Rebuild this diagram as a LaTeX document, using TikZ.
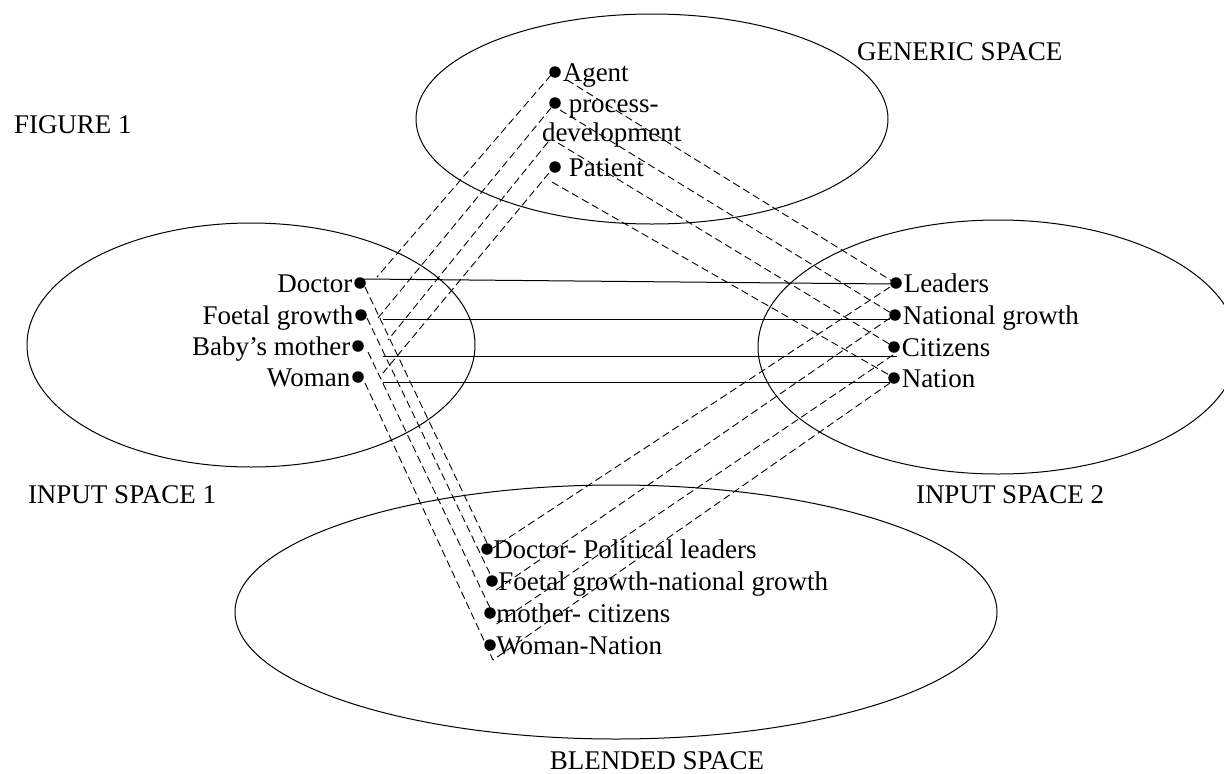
\documentclass[tikz,border=0pt]{standalone}
\usepackage{fontspec}
\setmainfont{Liberation Serif}
\begin{document}
\begin{tikzpicture}[x=1pt,y=-1pt,
  every node/.style={inner sep=0pt, outer sep=0pt},
  lbl/.style={font=\fontsize{27}{31}\selectfont},
  pt/.style={circle, fill=black, minimum size=11.5pt, inner sep=0pt},
  space/.style={line width=1pt},
  link/.style={line width=0.9pt, dash pattern=on 7.5pt off 4pt},
  tie/.style={line width=1pt}]
\useasboundingbox (0,0) rectangle (1224,774);

% the four mental spaces
\begin{scope}
  \clip (0,0) rectangle (1224,774);
  \draw[space] (652,119) ellipse [x radius=236, y radius=105];
  \draw[space] (251,345) ellipse [x radius=224, y radius=122];
  \draw[space] (998,347) ellipse [x radius=240, y radius=127];
  \draw[space] (616,612) ellipse [x radius=381, y radius=127];
\end{scope}

% titles
\node[lbl, anchor=base west] (fig) at (14,133) {FIGURE 1};
\node[lbl, anchor=base west] (gen) at (857,60) {GENERIC SPACE};
\node[lbl, anchor=base west] (in1) at (28,503) {INPUT SPACE 1};
\node[lbl, anchor=base west] (in2) at (916,503) {INPUT SPACE 2};
\node[lbl, anchor=base] (bl) at (657,769) {BLENDED SPACE};

% generic space
\node[pt] (ag) at (555,72) {};
\node[pt] (pr) at (555,103) {};
\node[pt] (pa) at (555,167) {};
\node[lbl, anchor=base west] (agT) at ([xshift=2pt,yshift=-9pt]ag.east) {Agent};
\node[lbl, anchor=base west] (prT) at ([xshift=8pt,yshift=-9pt]pr.east) {process-};
\node[lbl, anchor=base west] (dvT) at ([xshift=-13pt,yshift=-38pt]pr.center) {development};
\node[lbl, anchor=base west] (paT) at ([xshift=8pt,yshift=-9pt]pa.east) {Patient};

% input space 1
\node[pt] (doc) at (360,283) {};
\node[pt] (fg) at (361,315) {};
\node[pt] (bm) at (358,346) {};
\node[pt] (wo) at (358,377) {};
\node[lbl, anchor=base east] (docT) at ([xshift=-2pt,yshift=-9pt]doc.west) {Doctor};
\node[lbl, anchor=base east] (fgT) at ([xshift=-2pt,yshift=-9pt]fg.west) {Foetal growth};
\node[lbl, anchor=base east] (bmT) at ([xshift=-2pt,yshift=-9pt]bm.west) {Baby’s mother};
\node[lbl, anchor=base east] (woT) at ([xshift=-2pt,yshift=-9pt]wo.west) {Woman};

% input space 2
\node[pt] (le) at (896,283) {};
\node[pt] (ng) at (895,315) {};
\node[pt] (ci) at (894,347) {};
\node[pt] (na) at (894,378) {};
\node[lbl, anchor=base west] (leT) at ([xshift=2pt,yshift=-9pt]le.east) {Leaders};
\node[lbl, anchor=base west] (ngT) at ([xshift=2pt,yshift=-9pt]ng.east) {National growth};
\node[lbl, anchor=base west] (ciT) at ([xshift=2pt,yshift=-9pt]ci.east) {Citizens};
\node[lbl, anchor=base west] (naT) at ([xshift=2pt,yshift=-9pt]na.east) {Nation};

% blended space
\node[pt] (bd) at (487,549) {};
\node[pt] (bf) at (492,581) {};
\node[pt] (bc) at (490,613) {};
\node[pt] (bw) at (490,645) {};
\node[lbl, anchor=base west] (bdT) at ([xshift=0.5pt,yshift=-9pt]bd.east) {Doctor- Political leaders};
\node[lbl, anchor=base west] (bfT) at ([xshift=0.5pt,yshift=-9pt]bf.east) {Foetal growth-national growth};
\node[lbl, anchor=base west] (bcT) at ([xshift=0.5pt,yshift=-9pt]bc.east) {mother- citizens};
\node[lbl, anchor=base west] (bwT) at ([xshift=0.5pt,yshift=-9pt]bw.east) {Woman-Nation};

% generic space -> input space 1
\draw[link] ([shift={(-4,3)}]ag.center) -- ([shift={(17,-6)}]doc.center);
\draw[link] ([shift={(-4,5)}]pr.center) -- ([shift={(17,3)}]fg.center);
\draw[link] ([shift={(-7,39)}]pr.center) -- ([shift={(30,-6)}]bm.center);
\draw[link] ([shift={(-6,6)}]pa.center) -- ([shift={(25,-4)}]wo.center);

% generic space -> input space 2
\draw[link] ([shift={(12,8)}]ag.center) -- ([shift={(-4,-2)}]le.center);
\draw[link] ([shift={(5,7)}]pr.center) -- ([shift={(-4,-2)}]ng.center);
\draw[link] ([shift={(3,40)}]pr.center) -- ([shift={(-3,-2)}]ci.center);
\draw[link] ([shift={(-3,15)}]pa.center) -- ([shift={(-3,-2)}]na.center);

% cross-space mapping
\draw[tie] ([shift={(4,-4)}]doc.center) -- ([shift={(-4,1)}]le.center);
\draw[tie] ([shift={(22,4)}]fg.center) -- ([shift={(-5,4)}]ng.center);
\draw[tie] ([shift={(25,10)}]bm.center) -- ([shift={(3,9)}]ci.center);
\draw[tie] ([shift={(25,5)}]wo.center) -- ([shift={(-4,4)}]na.center);

% input space 1 -> blend
\draw[link] ([shift={(5,4)}]doc.center) -- ([shift={(1,-4)}]bd.center);
\draw[link] ([shift={(6,3)}]fg.center) -- ([shift={(0,-3)}]bf.center);
\draw[link] ([shift={(10,6)}]bm.center) -- ([shift={(2,-1)}]bc.center);
\draw[link] ([shift={(7,6)}]wo.center) -- ([shift={(3,15)}]bw.center);

% input space 2 -> blend
\draw[link] ([shift={(-6,4)}]le.center) -- ([shift={(6,-1)}]bd.center);
\draw[link] ([shift={(-5,3)}]ng.center) -- ([shift={(4,9)}]bf.center);
\draw[link] ([shift={(-1,8)}]ci.center) -- ([shift={(5,12)}]bc.center);
\draw[link] ([shift={(-4,5)}]na.center) -- ([shift={(3,15)}]bw.center);
\end{tikzpicture}
\end{document}
